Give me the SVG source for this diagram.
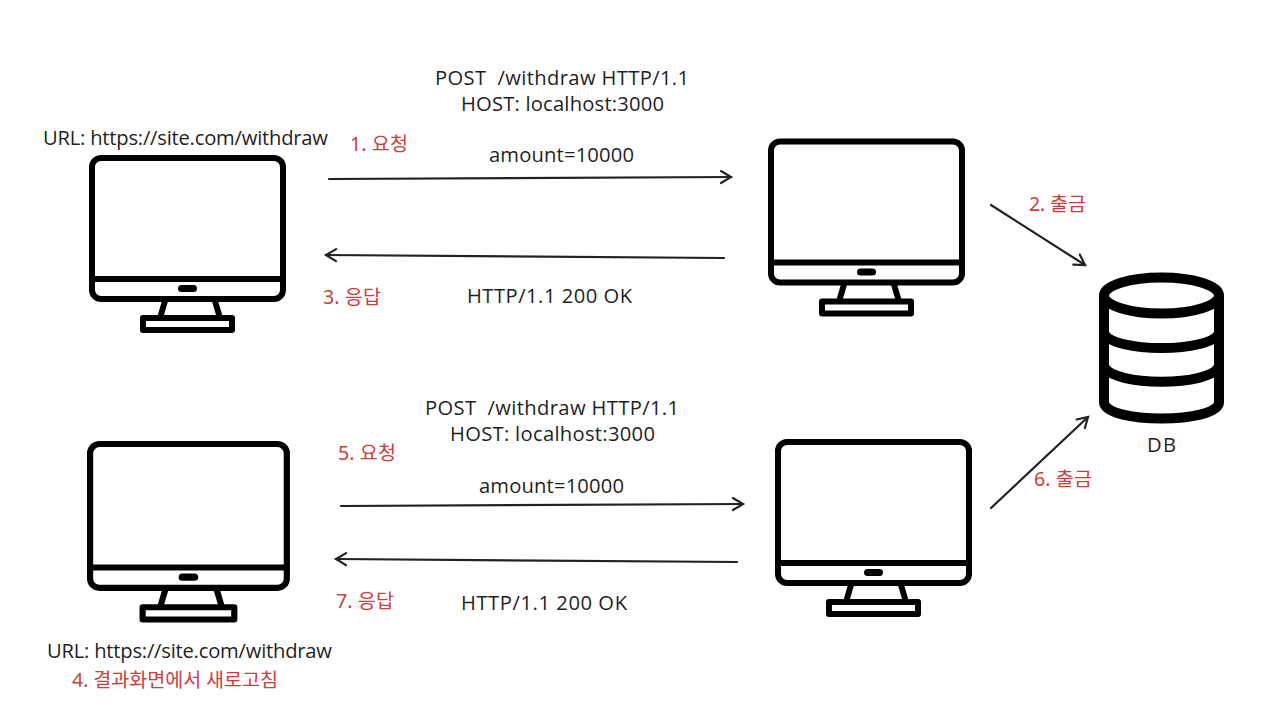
<svg xmlns="http://www.w3.org/2000/svg" width="1284" height="722" viewBox="0 0 1284 722">
<style>
text{font-family:"Open Sans","Noto Sans CJK KR",sans-serif;font-size:20.2px;fill:#1f1f1f;white-space:pre}
.r{fill:#c8403d;font-family:"Noto Sans","Noto Sans CJK KR",sans-serif;font-size:19.6px}
.m{text-anchor:middle}
.c{fill:none;stroke:#222;stroke-width:2.2;stroke-linecap:round;marker-end:url(#a)}
.k{fill:none;stroke:#000;stroke-width:6;stroke-linejoin:round}
</style>
<defs>
<marker id="a" viewBox="0 0 16 16" refX="13" refY="8" markerWidth="16" markerHeight="16" markerUnits="userSpaceOnUse" orient="auto"><path d="M3 2L13 8L3 14" fill="none" stroke="#222" stroke-width="2.2" stroke-linecap="round"/></marker>
<g id="mon">
<rect class="k" x="3" y="3" width="191" height="141" rx="9"/>
<path class="k" d="M3 124H194"/>
<rect x="89" y="130" width="19" height="7" rx="3.5" fill="#000"/>
<path class="k" d="M76 146L71 163M126 146L131 163"/>
<rect class="k" x="54" y="163" width="89" height="12"/>
</g>
</defs>
<rect width="1284" height="722" fill="#fff"/>
<g id="client-top"><use href="#mon" transform="translate(89 155)"/></g>
<g id="server-top"><use href="#mon" transform="translate(768 138.500)"/></g>
<g id="client-bottom"><use href="#mon" transform="translate(87 441) scale(1.03 1.02)"/></g>
<g id="server-bottom"><use href="#mon" transform="translate(775 439)"/></g>
<g id="db">
<path d="M1104 296V402C1104 424 1219 424 1219 402V296" fill="none" stroke="#000" stroke-width="10"/>
<ellipse cx="1161.500" cy="295.500" rx="57.500" ry="18" fill="none" stroke="#000" stroke-width="10"/>
<path d="M1104 333C1112 353 1211 353 1219 333M1104 366C1112 387 1211 387 1219 366" fill="none" stroke="#000" stroke-width="10"/>
<text class="m" x="1161.500" y="452" textLength="29">DB</text>
</g>
<g id="connectors">
<path class="c" d="M329 179L731 177"/>
<path class="c" d="M724 258L326 255"/>
<path class="c" d="M991 205L1085 265"/>
<path class="c" d="M991 508L1088 417"/>
<path class="c" d="M341 506L743 504"/>
<path class="c" d="M737 562L336 559"/>
</g>
<g id="labels">
<text x="435" y="85" textLength="254">POST  /withdraw HTTP/1.1</text>
<text x="461" y="111" textLength="203">HOST: localhost:3000</text>
<text x="43" y="145" textLength="285">URL: https://site.com/withdraw</text>
<text class="r" x="350" y="151" textLength="58">1. 요청</text>
<text x="489" y="162" textLength="145">amount=10000</text>
<text class="r" x="1029" y="211" textLength="57">2. 출금</text>
<text class="r" x="323" y="304" textLength="58">3. 응답</text>
<text x="467" y="303" textLength="165">HTTP/1.1 200 OK</text>
<text x="425" y="415" textLength="254">POST  /withdraw HTTP/1.1</text>
<text x="450" y="441" textLength="205">HOST: localhost:3000</text>
<text class="r" x="338" y="460" textLength="58">5. 요청</text>
<text x="479" y="493" textLength="145">amount=10000</text>
<text class="r" x="1034" y="486" textLength="58">6. 출금</text>
<text class="r" x="336" y="608" textLength="58">7. 응답</text>
<text x="461" y="610" textLength="166">HTTP/1.1 200 OK</text>
<text x="47" y="658" textLength="285">URL: https://site.com/withdraw</text>
<text class="r" x="72" y="687" textLength="206">4. 결과화면에서 새로고침</text>
</g>
</svg>
